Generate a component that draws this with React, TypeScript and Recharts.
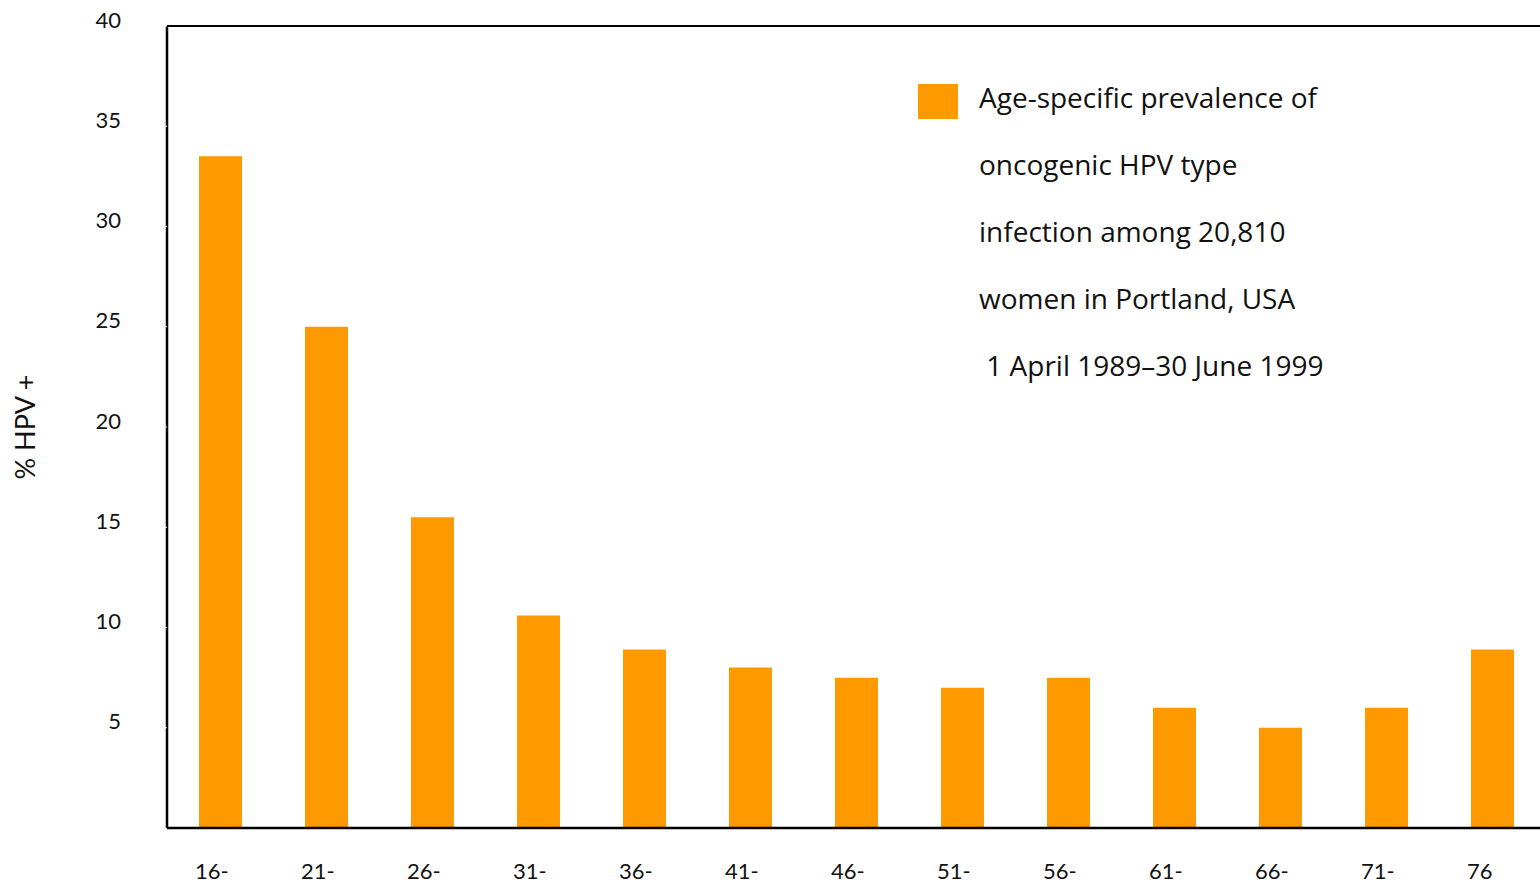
import { BarChart, Bar, XAxis, YAxis, ReferenceLine } from 'recharts';

// age groups and % HPV positive
const ageGroups = ['16-', '21-', '26-', '31-', '36-', '41-', '46-', '51-', '56-', '61-', '66-', '71-', '76'];
const hpvPercent = [33.5, 25.0, 15.5, 10.6, 8.9, 8.0, 7.5, 7.0, 7.5, 6.0, 5.0, 6.0, 8.9];
const yTicks = [5, 10, 15, 20, 25, 30, 35, 40];
const legendLines = [
  'Age-specific prevalence of',
  'oncogenic HPV type',
  'infection among 20,810',
  'women in Portland, USA',
  '\u00a01 April 1989\u201330 June 1999',
];

const data = ageGroups.map((age, i) => ({ age, value: hpvPercent[i] }));

const FONT = 'Lato, "Open Sans", sans-serif';
const LEGEND_FONT = '"Open Sans", Lato, sans-serif';
const ORANGE = '#FF9900';

const XTick = (props: any) => {
  const { x, y, payload } = props;
  return (
    <text x={x - 25} y={y + 34} textAnchor="start" dominantBaseline="central" fontFamily={FONT} fontSize={22} fill="#111">
      {payload.value}
    </text>
  );
};

const YTick = (props: any) => {
  const { x, y, payload } = props;
  return (
    <text x={x} y={y - 7} textAnchor="end" dominantBaseline="central" fontFamily={FONT} fontSize={22} fill="#111">
      {payload.value}
    </text>
  );
};

const LegendBox = () => (
  <div style={{ position: 'absolute', left: 918, top: 76, fontFamily: LEGEND_FONT, fontSize: 28, color: '#111' }}>
    <div style={{ position: 'absolute', left: 0, top: 8, width: 40, height: 35, background: ORANGE }} />
    {legendLines.map((line, i) => (
      <div key={i} style={{ position: 'absolute', left: 61, top: i * 67, whiteSpace: 'pre', lineHeight: '42px' }}>
        {line}
      </div>
    ))}
  </div>
);

export default function App() {
  return (
    <div style={{ position: 'absolute', left: 0, top: 0, width: 1540, height: 885, overflow: 'hidden', background: '#fff' }}>
      <BarChart width={1560} height={885} data={data} margin={{ top: 26, right: 15, bottom: 0, left: 107 }} barSize={43}>
        <XAxis
          dataKey="age"
          height={57}
          tick={<XTick />}
          tickLine={false}
          axisLine={{ stroke: '#000', strokeWidth: 2.5 }}
          interval={0}
        />
        <YAxis
          domain={[0, 40]}
          ticks={yTicks}
          width={60}
          tick={<YTick />}
          tickSize={2}
          tickMargin={44}
          tickLine={{ stroke: '#fff', strokeWidth: 1 }}
          axisLine={{ stroke: '#000', strokeWidth: 2.5 }}
          label={{
            value: '% HPV +',
            angle: -90,
            position: 'insideLeft',
            offset: 0,
            dx: -82,
            style: { fontFamily: FONT, fontSize: 27, fill: '#111', textAnchor: 'middle' },
          }}
        />
        <ReferenceLine y={40} stroke="#000" strokeWidth={2} />
        <Bar dataKey="value" fill={ORANGE} isAnimationActive={false} />
      </BarChart>
      <LegendBox />
    </div>
  );
}
